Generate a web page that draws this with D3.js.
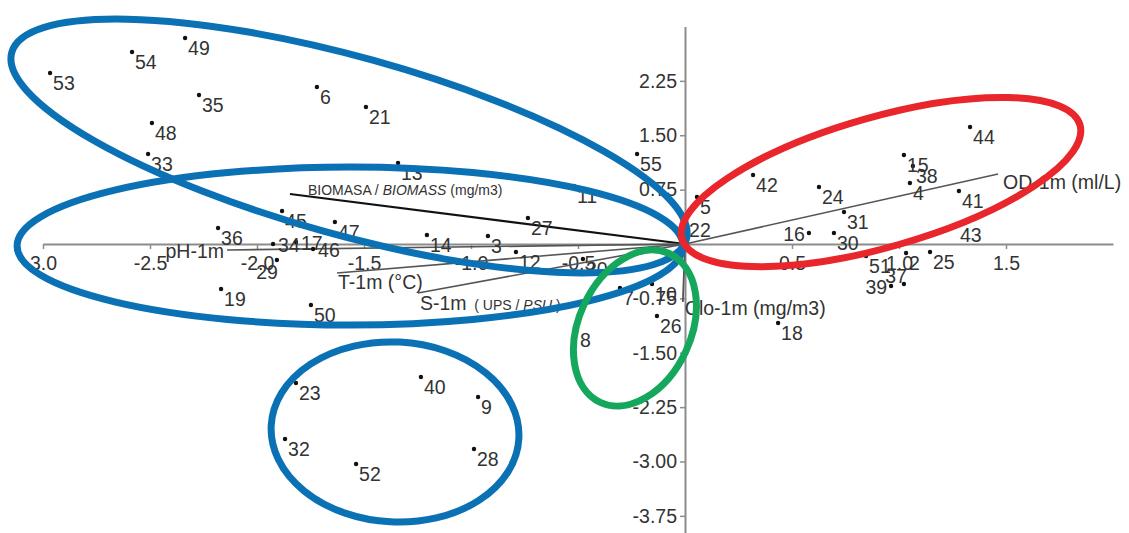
<!DOCTYPE html>
<html><head><meta charset="utf-8">
<script src="https://cdn.jsdelivr.net/npm/d3@7"></script>
<style>
html,body{margin:0;padding:0;background:#fff;}
svg{display:block;font-family:"Liberation Sans",Arial,sans-serif;}
</style>
</head><body>
<svg id="chart" width="1129" height="533"></svg>
<script>
// ---- data ----
const pointIds = ["53","54","49","35","48","33","6","21","13","55","11","27","45","47","36","34","17","46","14","3","12","20","29","19","50","23","40","9","32","52","28","7","10","26","8","18","22","5","42","24","31","16","30","44","15","38","4","41","43","51","2","25","37","39"];
const pointX = [-2.967,-2.584,-2.336,-2.271,-2.491,-2.509,-1.720,-1.491,-1.341,-0.224,-0.519,-0.734,-1.883,-1.636,-2.182,-1.925,-1.818,-1.738,-1.206,-0.921,-0.790,-0.477,-1.907,-2.168,-1.748,-1.818,-1.234,-0.967,-1.869,-1.537,-0.986,-0.304,-0.154,-0.131,-0.505,0.435,0.005,0.056,0.318,0.626,0.743,0.579,0.696,1.332,1.023,1.065,1.051,1.280,1.271,0.846,1.033,1.145,1.023,0.963];
const pointY = [2.359,2.648,2.841,2.055,1.669,1.241,2.166,1.890,1.117,1.241,0.800,0.359,0.455,0.303,0.221,0.000,0.028,-0.069,0.124,0.110,-0.110,-0.207,-0.221,-0.621,-0.841,-1.917,-1.834,-2.110,-2.690,-3.034,-2.828,-0.607,-0.552,-0.993,-1.186,-1.090,0.331,0.648,0.952,0.786,0.441,0.152,0.152,1.614,1.228,1.076,0.841,0.731,0.262,-0.166,-0.124,-0.110,-0.552,-0.579];

const vectorNames = ["BIOMASA","pH-1m","T-1m","S-1m","OD-1m","Clo-1m"];
const vectorX = [-1.846,-2.140,-1.626,-1.248,1.463,-0.010];
const vectorY = [0.690,-0.083,-0.400,-0.676,0.966,-0.800];

const xTickValues = [-3,-2.5,-2,-1.5,-1,-0.5,0.5,1,1.5];
const xTickLabels = ["3.0","-2.5","-2.0","-1.5","-1.0","-0.5","0.5","1.0","1.5"];
const yTickValues = [2.25,1.5,0.75,-0.75,-1.5,-2.25,-3,-3.75];
const yTickLabels = ["2.25","1.50","0.75","-0.75","-1.50","-2.25","-3.00","-3.75"];

// group ellipses: centre in data units
const groupColors = ["#0b71b5","#0b71b5","#0b71b5","#e8262b","#15a75c"];
const groupCx = [-1.570,-1.565,-1.355,0.916,-0.234];
const groupCy = [1.352,-0.028,-2.593,0.855,-1.159];

// ---- layout / style ----
const W = 1129, H = 533;
const svg = d3.select("#chart");
svg.append("rect").attr("width",W).attr("height",H).attr("fill","#fff");

const x = d3.scaleLinear().domain([-3,2]).range([43,1113]);
const y = d3.scaleLinear().domain([-4,3]).range([534,26.5]);

const txt = "#333";
const axisCol = "#8c8c8c";

// axes
const xAxis = svg.append("g").attr("transform",`translate(0,${y(0)})`)
  .call(d3.axisBottom(x).tickValues(xTickValues).tickFormat((d,i)=>xTickLabels[i]).tickSize(5).tickSizeOuter(0).tickPadding(7));
const yAxis = svg.append("g").attr("transform",`translate(${x(0)},0)`)
  .call(d3.axisLeft(y).tickValues(yTickValues).tickFormat((d,i)=>yTickLabels[i]).tickSize(5).tickSizeOuter(0).tickPadding(3));
[xAxis,yAxis].forEach(g=>{
  g.select(".domain").attr("stroke",axisCol).attr("stroke-width",2);
  g.selectAll(".tick line").attr("stroke",axisCol).attr("stroke-width",1.5);
  g.selectAll(".tick text").attr("fill",txt).attr("font-size","19.5px").attr("font-family","Liberation Sans, Arial, sans-serif");
});

// vectors
const vecStyle = [
  {stroke:"#111",w:2.2},{stroke:"#555",w:1.6},{stroke:"#555",w:1.6},
  {stroke:"#555",w:1.6},{stroke:"#555",w:1.6},{stroke:"#555",w:1.8}
];
svg.append("g").selectAll("line").data(vectorNames).join("line")
  .attr("x1",x(0)).attr("y1",y(0))
  .attr("x2",(d,i)=>x(vectorX[i])).attr("y2",(d,i)=>y(vectorY[i]))
  .attr("stroke",(d,i)=>vecStyle[i].stroke).attr("stroke-width",(d,i)=>vecStyle[i].w);

// vector labels
const vecLabelPos = [
  {dx:18,dy:1,anchor:"start"},
  {dx:-3,dy:8,anchor:"end"},
  {dx:1,dy:16,anchor:"start"},
  {dx:2,dy:17,anchor:"start"},
  {dx:5,dy:15,anchor:"start"},
  {dx:2,dy:13,anchor:"start"}
];
const vecParts = [
  [{t:"BIOMASA / ",s:14},{t:"BIOMASS",s:14,it:true},{t:" (mg/m3)",s:14}],
  [{t:"pH-1m",s:19.5}],
  [{t:"T-1m (°C)",s:19.5}],
  [{t:"S-1m",s:19.5},{t:"  ( UPS / ",s:14},{t:"PSU",s:14,it:true},{t:" )",s:14}],
  [{t:"OD-1m (ml/L)",s:19.5}],
  [{t:"Clo-1m (mg/m3)",s:19.5}]
];
const vl = svg.append("g").selectAll("text").data(vectorNames).join("text")
  .attr("x",(d,i)=>x(vectorX[i])+vecLabelPos[i].dx)
  .attr("y",(d,i)=>y(vectorY[i])+vecLabelPos[i].dy)
  .attr("text-anchor",(d,i)=>vecLabelPos[i].anchor)
  .attr("fill",txt).style("white-space","pre");
vl.each(function(d,i){
  const t = d3.select(this);
  vecParts[i].forEach(p=>{
    t.append("tspan").text(p.t).attr("font-size",p.s+"px").attr("font-style",p.it?"italic":"normal");
  });
});

// points
const place = {"34":"r","17":"r","46":"r","16":"l","39":"l","29":"bl","37":"tl"};
const offs = {
  br:{dx:3,dy:17,a:"start"}, r:{dx:5,dy:8,a:"start"}, l:{dx:-4,dy:8,a:"end"},
  bl:{dx:1,dy:19,a:"end"}, tl:{dx:3,dy:-1,a:"end"}
};
const pg = svg.append("g");
pg.selectAll("circle").data(pointIds).join("circle")
  .attr("cx",(d,i)=>x(pointX[i])).attr("cy",(d,i)=>y(pointY[i]))
  .attr("r",2.2).attr("fill","#111");
pg.selectAll("text").data(pointIds).join("text")
  .attr("x",(d,i)=>x(pointX[i])+offs[place[d]||"br"].dx)
  .attr("y",(d,i)=>y(pointY[i])+offs[place[d]||"br"].dy)
  .attr("text-anchor",d=>offs[place[d]||"br"].a)
  .attr("font-size","19.5px").attr("fill",txt).text(d=>d);

// group ellipses (annotations, drawn on top)
const ellRx = [350,333,124,207,56];
const ellRy = [89,79,90,65,82];
const ellRot = [15.5,0,3,-16,25];
svg.append("g").selectAll("ellipse").data(groupColors).join("ellipse")
  .attr("cx",0).attr("cy",0)
  .attr("rx",(d,i)=>ellRx[i]).attr("ry",(d,i)=>ellRy[i])
  .attr("transform",(d,i)=>`translate(${x(groupCx[i])},${y(groupCy[i])}) rotate(${ellRot[i]})`)
  .attr("fill","none").attr("stroke",d=>d).attr("stroke-width",7);
</script>
</body></html>
